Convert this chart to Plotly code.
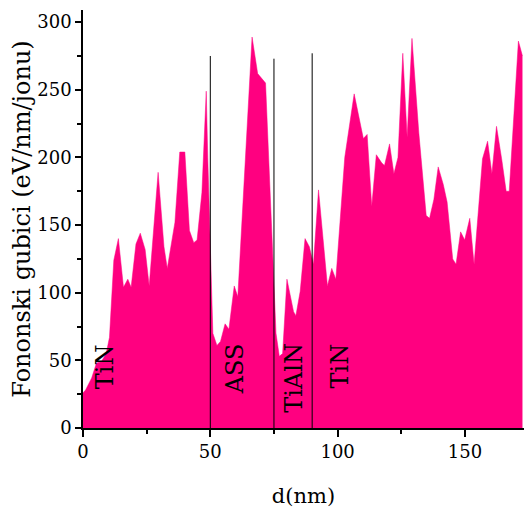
import plotly.graph_objects as go

# depth (nm) and phonon losses (eV/nm/ion)
d_nm = [0, 1, 3.4, 5.3, 7.2, 9.1, 10.4, 12.1, 13.9, 15.9, 17.6, 18.9, 20.8, 22.5, 24.4,
        26, 29.5, 31.8, 33.1, 36.1, 38, 40, 41.8, 43.5, 44.8, 46.7, 48.4, 49.0, 51, 52.6,
        54, 55.8, 57.3, 59.4, 60.8, 66.4, 68.6, 71.7, 74.5, 75.8, 77.1, 78.4, 80.1, 82.7,
        83.6, 85.3, 87.2, 88.9, 90.5, 92.5, 96, 97.7, 99.3, 102.8, 106.5, 110.1, 111.6,
        113.4, 115.2, 117.3, 118.4, 120.4, 122.1, 123.7, 125.6, 127.3, 129.2, 131.9, 134.8,
        136.1, 137.8, 139.5, 141.5, 143, 145.2, 146.5, 148.3, 149.9, 151.9, 153.6, 156.9,
        158.9, 160.6, 162.4, 164.5, 166.2, 167.4, 171, 172.6]
losses = [26, 28, 37, 48, 49, 55, 67, 124, 140, 104, 110, 104, 136, 144, 132,
          105, 189, 134, 118, 152, 204, 204, 146, 137, 139, 174, 249, 200, 70, 61,
          64, 77, 73, 105, 97, 289, 262, 255, 129, 70, 53, 55, 110, 86,
          83, 101, 140, 134, 121, 176, 105, 118, 110, 200, 247, 214, 217,
          164, 202, 196, 194, 210, 188, 200, 277, 215, 288, 218, 157,
          155, 169, 193, 180, 167, 125, 121, 145, 139, 155, 121, 199,
          212, 188, 223, 198, 175, 175, 286, 275]

# layer boundaries and labels
boundary_x = [50, 75, 90]
boundary_top = [275, 273, 277]
layer_names = ["TiN", "ASS", "TiAlN", "TiN"]
layer_x = [8.7, 60, 82.8, 100.8]
layer_y = [45, 44, 37, 46]

FONT = "DejaVu Serif"

fig = go.Figure()
fig.add_trace(go.Scatter(
    x=d_nm, y=losses, mode="lines", fill="tozeroy",
    line=dict(color="#FF0080", width=0.5), fillcolor="#FF0080",
    showlegend=False, hoverinfo="skip"))

for bx, bt in zip(boundary_x, boundary_top):
    fig.add_shape(type="line", xref="x", yref="y", x0=bx, x1=bx, y0=0, y1=bt,
                  line=dict(color="black", width=1), layer="above")

for name, lx, ly in zip(layer_names, layer_x, layer_y):
    fig.add_annotation(x=lx, y=ly, xref="x", yref="y", text=name, textangle=-90,
                       showarrow=False, font=dict(family=FONT, size=24, color="black"))

fig.update_layout(
    width=524, height=514,
    margin=dict(l=83, r=0, t=10, b=86),
    plot_bgcolor="white", paper_bgcolor="white",
    font=dict(family=FONT, size=18, color="black"),
    xaxis=dict(range=[0, 173.2], tickvals=[0, 50, 100, 150], ticks="outside",
               ticklen=7, tickwidth=1.5, tickcolor="black",
               minor=dict(tickvals=[25, 75, 125], ticks="outside", ticklen=4,
                          tickwidth=1.5, tickcolor="black"),
               showline=True, linecolor="black", linewidth=1.5, showgrid=False,
               zeroline=False, title=dict(text="d(nm)", font=dict(size=21), standoff=27),
               tickfont=dict(size=18)),
    yaxis=dict(range=[0, 309], tickvals=[0, 50, 100, 150, 200, 250, 300], ticks="outside",
               ticklen=6, tickwidth=1.5, tickcolor="black",
               minor=dict(tickvals=[25, 75, 125, 175, 225, 275], ticks="outside",
                          ticklen=4, tickwidth=1.5, tickcolor="black"),
               showline=True, linecolor="black", linewidth=1.5, showgrid=False,
               zeroline=False,
               title=dict(text="Fononski gubici (eV/nm/jonu)", font=dict(size=24), standoff=0),
               tickfont=dict(size=18)),
)

fig.write_html("out.html", config={"displayModeBar": False},
               post_script="document.body.style.margin='0';document.body.style.overflow='hidden';")
